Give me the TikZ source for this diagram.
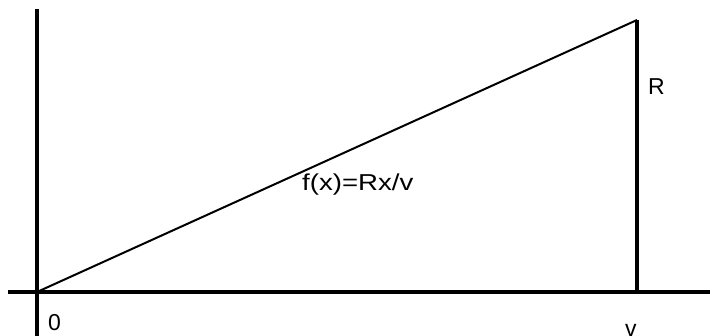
\documentclass[tikz,border=0pt]{standalone}
\usepackage{fontspec}
\setmainfont{Liberation Sans}
\begin{document}
\begin{tikzpicture}[x=1pt,y=-1pt,
  axis/.style={line width=4.5pt},
  edge/.style={line width=2pt},
  side/.style={line width=3.5pt},
  lbl/.style={inner sep=0pt,font=\fontsize{23}{23}\selectfont}]
\useasboundingbox[fill=white] (0,0) rectangle (710,336);
\coordinate (o) at (37,292);
\coordinate (top) at (637,20);
\coordinate (foot) at (637,292);
\coordinate (ytop) at (37,9);
\coordinate (ybot) at (37,336);
\coordinate (xl) at (8,292);
\coordinate (xr) at (710,292);
\draw[axis] (ytop) -- (ybot);
\draw[axis] (xl) -- (xr);
\draw[edge] (o) -- (top);
\draw[side] (top) -- (foot);
\node[lbl,anchor=west] (zero) at (48,323) {0};
\node[lbl,anchor=west] (r) at (648,87) {R};
\node[lbl,anchor=west] (v) at (625,330) {v};
\node[lbl,anchor=west] (f) at (302,185) {\scalebox{1.2}[1]{f(x)=Rx/v}};
\end{tikzpicture}
\end{document}
